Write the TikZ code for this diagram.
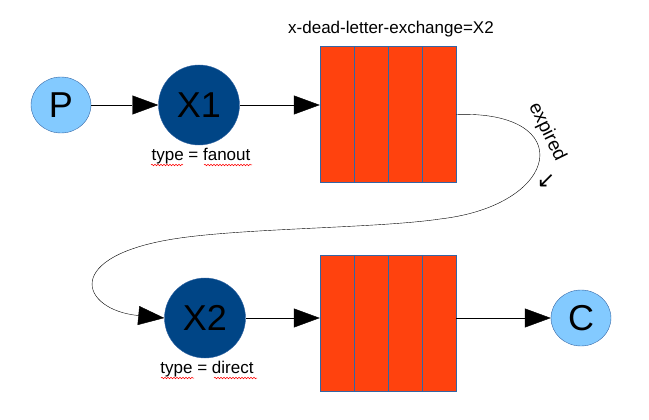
\documentclass[tikz,border=0pt]{standalone}
\usepackage{fontspec}
\setmainfont{Liberation Sans}
\newfontfamily\arrowfont{DejaVu Sans}
\usetikzlibrary{arrows.meta,calc,shapes.geometric,decorations.pathmorphing}
\definecolor{lightblue}{HTML}{83CAFF}
\definecolor{darkblue}{HTML}{004586}
\definecolor{queuered}{HTML}{FF420E}
\definecolor{edgeblue}{HTML}{3465A4}
\begin{document}
\begin{tikzpicture}[x=1pt,y=-1pt,>={Triangle[length=26pt,width=19pt]},
  client/.style={ellipse,draw=edgeblue,fill=lightblue,minimum width=60pt,minimum height=56pt,inner sep=0pt,font=\fontsize{36}{36}\selectfont},
  exchange/.style={ellipse,draw=edgeblue,fill=darkblue,minimum width=81pt,minimum height=80pt,inner sep=0pt,font=\fontsize{36}{36}\selectfont},
  queue/.style={rectangle,draw=edgeblue,fill=queuered,minimum width=136pt,minimum height=136pt,inner sep=0pt},
  typetext/.style={font=\fontsize{17}{17}\selectfont},
  spell/.style={draw=red,line width=0.5pt,decorate,decoration={snake,amplitude=0.8pt,segment length=3pt}}]
\useasboundingbox (0,0) rectangle (649,420);

% producer, exchange and queue on top
\node[client] (p) at (61,105) {P};
\node[exchange] (x1) at (199,105) {X1};
\node[typetext] (t1) at (201,156) {type = fanout};
\node[queue] (q1) at (388,114.5) {};
\node[typetext] (dlx) at (391,29) {x-dead-letter-exchange=X2};

% dead letter exchange, queue and consumer below
\node[exchange] (x2) at (205,318) {X2};
\node[typetext] (t2) at (207,369) {type = direct};
\node[queue] (q2) at (388,323) {};
\node[client] (c) at (581,318) {C};

\foreach \q in {q1,q2}
  \foreach \i in {1,2,3}
    \draw[edgeblue] ($(\q.north west)!\i/4!(\q.north east)$) -- ($(\q.south west)!\i/4!(\q.south east)$);

\draw[->] (p) -- (x1);
\draw[->] (x1.east) -- (x1.east -| q1.west);
\draw[->] (x2.east) -- (x2.east -| q2.west);
\draw[->] (q2.east |- c.west) -- (c.west);

% expired messages go back round to X2
\draw[->] (q1.east) .. controls (578,110) and (562,205) .. (440,219)
  .. controls (380,228) and (250,228) .. (180,238)
  .. controls (60,255) and (80,310) .. (x2.west);
\node[font=\fontsize{19}{19}\selectfont,rotate=-64] (exp) at (547,132) {expired};
\node[font=\fontsize{22}{22}\selectfont] (dir) at (546,181) {\arrowfont ↙};

% spell check marks
\draw[spell] (151,165) -- (183,165);
\draw[spell] (204,165) -- (252,165);
\draw[spell] (161,378) -- (194,378);
\draw[spell] (214,378) -- (257,378);
\end{tikzpicture}
\end{document}
